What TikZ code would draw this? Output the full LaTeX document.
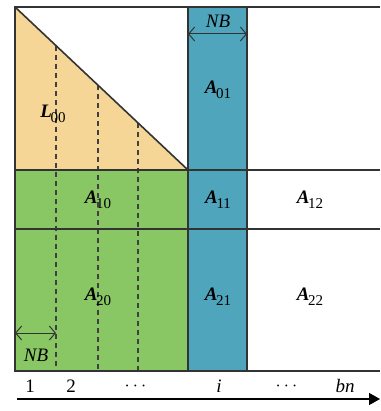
\documentclass[tikz,border=0pt]{standalone}
\usepackage{fontspec}
\setmainfont{Liberation Serif}
\usepackage{amsmath}
\usetikzlibrary{arrows.meta}
\newcommand{\blk}[2]{\textbf{\textit{#1}}\kern-0.6pt\raisebox{-0.55ex}{\fontsize{7.5}{8}\selectfont #2}}
\definecolor{lowfill}{HTML}{F6D697}
\definecolor{panelfill}{HTML}{89C664}
\definecolor{colfill}{HTML}{4FA6BC}

\begin{document}
\begin{tikzpicture}[
  x=0.5pt,y=-0.5pt,
  every node/.style={font=\fontsize{9.5}{10}\selectfont,inner sep=0pt},
  edge/.style={draw=black!80,line width=0.8pt},
  cut/.style={draw=black!75,dashed,line width=0.7pt,dash pattern=on 2.5pt off 2pt},
  nbarr/.style={{Straight Barb[length=3pt,width=7pt]}-{Straight Barb[length=3pt,width=7pt]},draw=black!80,line width=0.5pt},
  axis/.style={-{Triangle[length=5.5pt,width=6pt]},draw=black,line width=0.7pt}
]
\useasboundingbox (0,0) rectangle (380,411);
% fills
\fill[lowfill] (15,7) -- (15,170) -- (188,170) -- cycle;
\fill[panelfill] (15,170) rectangle (188,371);
\fill[colfill] (188,7) rectangle (247,371);
% panel cuts under the diagonal
\foreach \x in {56,98,138}
  \draw[cut] (\x,{7+(\x-15)/173*163}) -- (\x,371);
% grid
\draw[edge] (15,7) -- (188,170);
\draw[edge] (380,7) -- (15,7) -- (15,371) -- (380,371);
\foreach \y in {170,229}
  \draw[edge] (15,\y) -- (380,\y);
\foreach \x in {188,247}
  \draw[edge] (\x,7) -- (\x,371);
% blocks
\node (l00) at (53,114) {\blk{L}{00}};
\node (a01) at (218,90) {\blk{A}{01}};
\node (a10) at (98,200) {\blk{A}{10}};
\node (a11) at (218,200) {\blk{A}{11}};
\node (a12) at (310,200) {\blk{A}{12}};
\node (a20) at (98,297) {\blk{A}{20}};
\node (a21) at (218,297) {\blk{A}{21}};
\node (a22) at (310,297) {\blk{A}{22}};
% block width
\coordinate (nbt1) at (188,34);
\coordinate (nbt2) at (247,34);
\draw[nbarr] (nbt1) -- (nbt2);
\node (nbtop) at (218,21) {\textit{NB}};
\coordinate (nbb1) at (15,333);
\coordinate (nbb2) at (56,333);
\draw[nbarr] (nbb1) -- (nbb2);
\node (nbbot) at (36,355) {\textit{NB}};
% step index
\node (k1) at (30,386) {1};
\node (k2) at (71,386) {2};
\node (kd1) at (137,386) {$\cdots$};
\node (ki) at (219,386) {\textit{i}};
\node (kd2) at (288,386) {$\cdots$};
\node (kbn) at (345,386) {\textit{bn}};
\coordinate (ax1) at (17,399);
\coordinate (ax2) at (380,399);
\draw[axis] (ax1) -- (ax2);
\end{tikzpicture}
\end{document}
